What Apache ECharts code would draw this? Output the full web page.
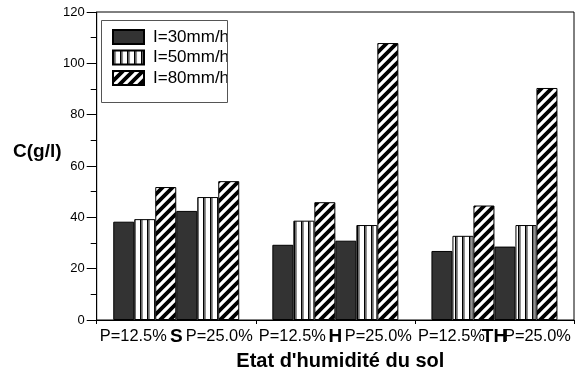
<!DOCTYPE html>
<html>
<head>
<meta charset="utf-8">
<script src="https://cdn.jsdelivr.net/npm/echarts@6/dist/echarts.min.js"></script>
<style>html,body{margin:0;padding:0;background:#fff}#c{width:582px;height:376px}</style>
</head>
<body>
<div id="c"></div>
<script>
// ---- data ----
const groups = ['S', 'H', 'TH'];
const subLabels = ['P=12.5%', 'P=25.0%'];
const seriesNames = ['I=30mm/h', 'I=50mm/h', 'I=80mm/h'];
// values at P=12.5% for S, H, TH
const i30_p125 = [38.3, 29.3, 26.9];
const i50_p125 = [39.3, 38.7, 32.8];
const i80_p125 = [51.8, 45.9, 44.6];
// values at P=25.0% for S, H, TH
const i30_p250 = [42.5, 30.9, 28.6];
const i50_p250 = [47.9, 37.0, 37.0];
const i80_p250 = [54.1, 107.9, 90.4];
const yTicks = [0, 20, 40, 60, 80, 100, 120];

// ---- patterns ----
function vStripe() {
  const c = document.createElement('canvas'); c.width = 7; c.height = 4;
  const g = c.getContext('2d');
  g.fillStyle = '#fff'; g.fillRect(0, 0, 7, 4);
  g.fillStyle = '#000'; g.fillRect(0, 0, 1.6, 4);
  g.fillStyle = '#777'; g.fillRect(1.6, 0, 1.2, 4);
  return c;
}
function diag() {
  const p = 10;
  const c = document.createElement('canvas'); c.width = p; c.height = p;
  const g = c.getContext('2d');
  g.fillStyle = '#fff'; g.fillRect(0, 0, p, p);
  g.strokeStyle = '#000'; g.lineWidth = 3.8;
  g.beginPath();
  g.moveTo(-2, 2); g.lineTo(2, -2);
  g.moveTo(-1, p + 1); g.lineTo(p + 1, -1);
  g.moveTo(p - 2, p + 2); g.lineTo(p + 2, p - 2);
  g.stroke();
  return c;
}
const fills = [
  '#333333',
  { image: vStripe(), repeat: 'repeat' },
  { image: diag(), repeat: 'repeat' }
];
const font = '"Liberation Sans", Arial, sans-serif';

const valueSets = [i30_p125, i50_p125, i80_p125, i30_p250, i50_p250, i80_p250];
const series = valueSets.map((vals, k) => ({
  name: seriesNames[k % 3],
  type: 'bar',
  data: vals,
  barWidth: 21,
  barGap: '0%',
  itemStyle: { color: fills[k % 3], borderColor: '#000', borderWidth: 1 },
  emphasis: { disabled: true },
  animation: false
}));

const chart = echarts.init(document.getElementById('c'), null, { renderer: 'canvas' });
chart.setOption({
  animation: false,
  backgroundColor: '#fff',
  grid: { left: 96.7, right: 8, top: 12, bottom: 56, show: true, borderColor: '#000', borderWidth: 1, backgroundColor: 'transparent', containLabel: false, outerBoundsMode: 'none' },
  legend: {
    data: seriesNames,
    orient: 'vertical',
    left: 112, top: 27,
    padding: 0,
    icon: 'rect',
    itemWidth: 31, itemHeight: 14, itemGap: 0.5,
    textStyle: { fontFamily: font, fontSize: 17, color: '#000', lineHeight: 20, padding: [0, 0, 0, 4] },
    selectedMode: false
  },
  graphic: [
    { type: 'rect', shape: { x: 101.5, y: 20.5, width: 126, height: 82 }, style: { fill: 'transparent', stroke: '#555', lineWidth: 1 }, z: 10 },
    { type: 'text', x: 13, y: 152, style: { text: 'C(g/l)', fontFamily: font, fontSize: 19, fontWeight: 'bold', fill: '#000', verticalAlign: 'middle' }, z: 10 }
  ],
  xAxis: {
    type: 'category',
    data: groups,
    name: "Etat d'humidité du sol",
    nameLocation: 'middle',
    nameGap: 31,
    nameTextStyle: { fontFamily: font, fontSize: 20, fontWeight: 'bold', color: '#000', padding: [0, 0, 0, 10] },
    axisLine: { lineStyle: { color: '#000', width: 1 } },
    axisTick: { show: true, length: 4, lineStyle: { color: '#000' } },
    splitLine: { show: false },
    axisLabel: {
      interval: 0,
      margin: 7,
      formatter: (v) => '{a|' + subLabels[0] + '}{b|' + v + '}{a|' + subLabels[1] + '}',
      rich: {
        a: { fontFamily: font, fontSize: 16.4, color: '#000', width: 66, align: 'center' },
        b: { fontFamily: font, fontSize: 19, fontWeight: 'bold', color: '#000', width: 20, align: 'center' }
      }
    }
  },
  yAxis: {
    type: 'value',
    min: 0, max: 120, interval: 20,
    axisLine: { show: true, lineStyle: { color: '#000', width: 1 } },
    axisTick: { show: true, length: 10, lineStyle: { color: '#000' } },
    minorTick: { show: true, splitNumber: 2, length: 6, lineStyle: { color: '#000' } },
    splitLine: { show: false },
    axisLabel: {
      margin: 12,
      fontFamily: font, fontSize: 13, color: '#000',
      formatter: (v) => yTicks.includes(v) ? String(v) : ''
    }
  },
  series: series
});
</script>
</body>
</html>
